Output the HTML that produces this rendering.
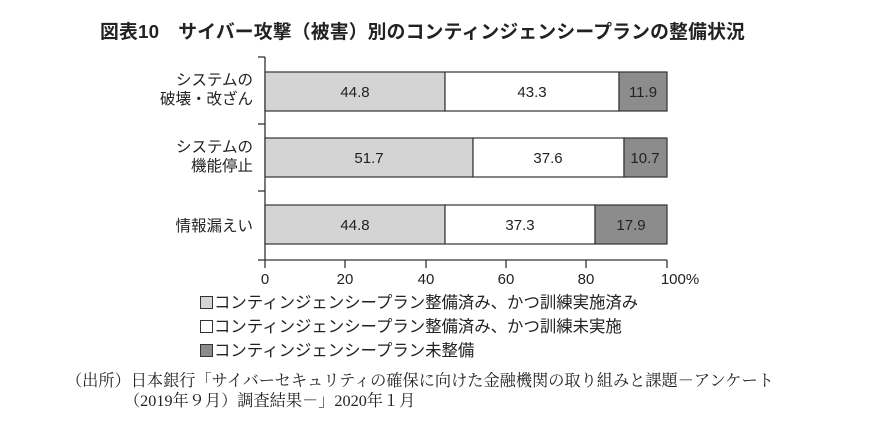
<!DOCTYPE html>
<html><head><meta charset="utf-8"><style>
body{margin:0;width:875px;height:423px;background:#fff;overflow:hidden;font-family:"Liberation Sans","Noto Sans CJK JP",sans-serif;color:#222}
.t{position:absolute;white-space:nowrap}
.title{left:100px;top:17px;font-size:18.8px;font-weight:bold;letter-spacing:0.2px}
.lg{left:200px;font-size:16.4px}
.lg span{display:inline-block;width:11px;height:11px;border:1px solid #333;margin-right:1px;vertical-align:-1px}
.src{font-family:"Liberation Serif","Noto Serif CJK SC",serif;font-size:16.2px}
</style></head><body>
<div class="t title">図表10　サイバー攻撃（被害）別のコンティンジェンシープランの整備状況</div>
<svg width="875" height="423" style="position:absolute;left:0;top:0" font-family="Liberation Sans, Noto Sans CJK JP, sans-serif">
<g stroke="#333" stroke-width="1.3">
<line x1="265" y1="57" x2="265" y2="260"/>
<line x1="265" y1="260" x2="667" y2="260"/>
<line x1="258" y1="57" x2="265" y2="57"/><line x1="258" y1="124" x2="265" y2="124"/><line x1="258" y1="191" x2="265" y2="191"/><line x1="258" y1="260" x2="265" y2="260"/>
<line x1="265" y1="260" x2="265" y2="268"/><line x1="345" y1="260" x2="345" y2="268"/><line x1="426" y1="260" x2="426" y2="268"/><line x1="506" y1="260" x2="506" y2="268"/><line x1="586" y1="260" x2="586" y2="268"/><line x1="667" y1="260" x2="667" y2="268"/>
</g>
<g stroke="#333" stroke-width="1.2">
<rect x="265" y="72" width="180" height="39" fill="#d4d4d4"/><rect x="445" y="72" width="174" height="39" fill="#fff"/><rect x="619" y="72" width="48" height="39" fill="#8c8c8c"/>
<rect x="265" y="138" width="208" height="39" fill="#d4d4d4"/><rect x="473" y="138" width="151" height="39" fill="#fff"/><rect x="624" y="138" width="43" height="39" fill="#8c8c8c"/>
<rect x="265" y="205" width="180" height="39" fill="#d4d4d4"/><rect x="445" y="205" width="150" height="39" fill="#fff"/><rect x="595" y="205" width="72" height="39" fill="#8c8c8c"/>
</g>
<g font-size="15" text-anchor="middle" fill="#222">
<text x="355" y="97">44.8</text><text x="532" y="97">43.3</text><text x="643" y="97">11.9</text>
<text x="369" y="163">51.7</text><text x="548" y="163">37.6</text><text x="645" y="163">10.7</text>
<text x="355" y="230">44.8</text><text x="520" y="230">37.3</text><text x="631" y="230">17.9</text>
<text x="265" y="284">0</text><text x="345" y="284">20</text><text x="426" y="284">40</text><text x="506" y="284">60</text><text x="586" y="284">80</text><text x="680" y="284">100%</text>
</g>
<g font-size="15.5" text-anchor="end" fill="#222">
<text x="253" y="85">システムの</text><text x="253" y="104">破壊・改ざん</text>
<text x="253" y="152">システムの</text><text x="253" y="171">機能停止</text>
<text x="253" y="231">情報漏えい</text>
</g>
</svg>
<div class="t lg" style="top:289px"><span style="background:#d4d4d4"></span>コンティンジェンシープラン整備済み、かつ訓練実施済み</div>
<div class="t lg" style="top:313px"><span style="background:#fff"></span>コンティンジェンシープラン整備済み、かつ訓練未実施</div>
<div class="t lg" style="top:337px"><span style="background:#8c8c8c"></span>コンティンジェンシープラン未整備</div>
<div class="t src" style="left:66px;top:367px">（出所）日本銀行「サイバーセキュリティの確保に向けた金融機関の取り組みと課題－アンケート</div>
<div class="t src" style="left:124px;top:387px">（2019年９月）調査結果－」2020年１月</div>
</body></html>
